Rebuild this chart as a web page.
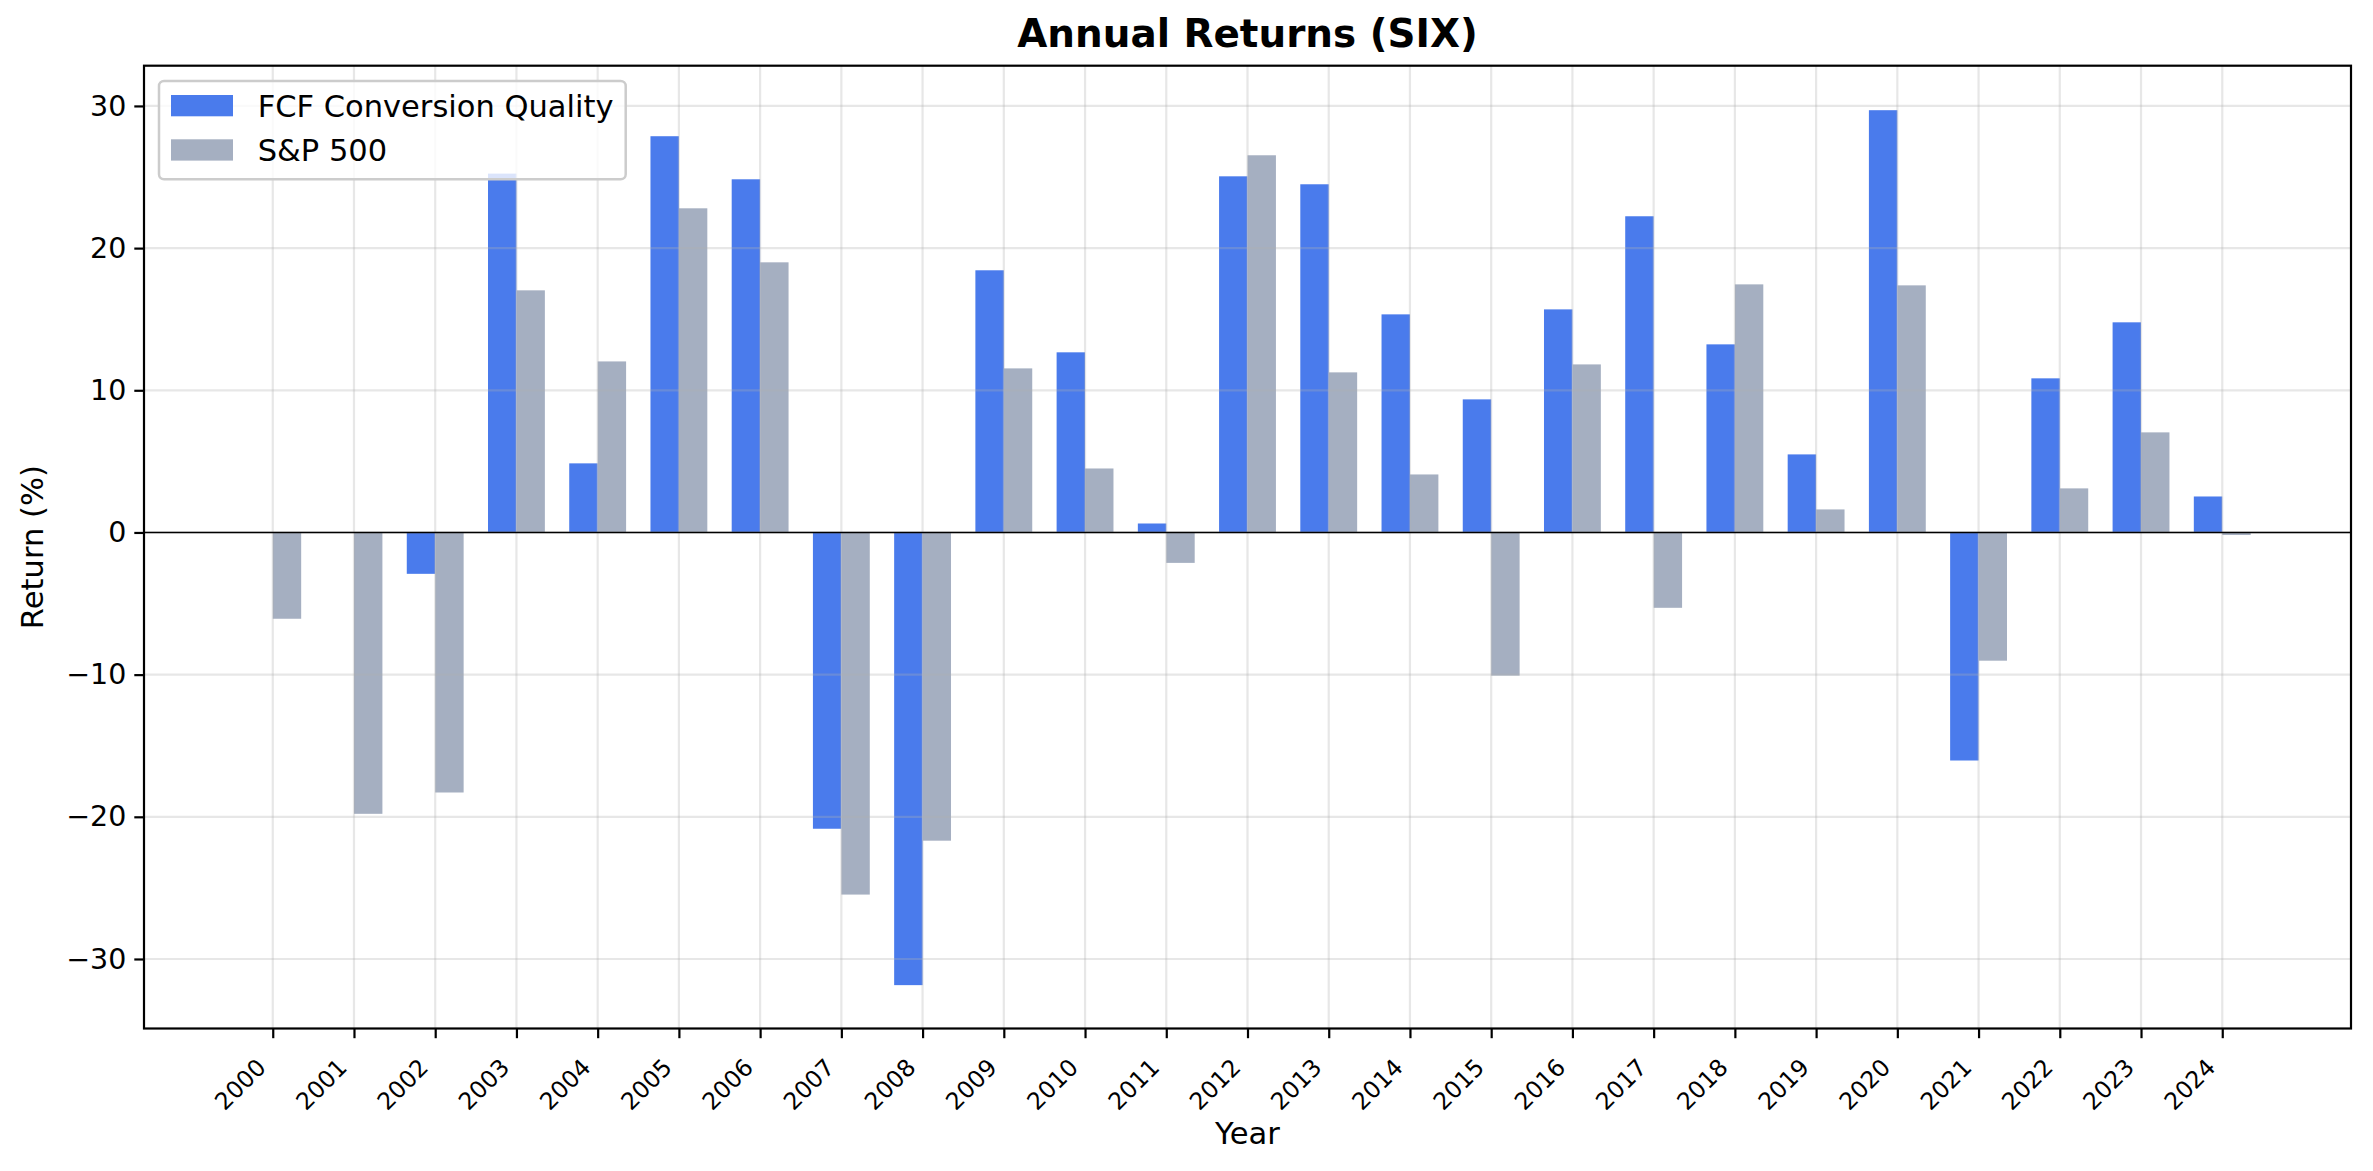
<!DOCTYPE html>
<html>
<head>
<meta charset="utf-8">
<script src="https://cdn.jsdelivr.net/npm/d3@7"></script>
<style>
  body { margin: 0; background: #fff; }
  svg text { font-family: "DejaVu Sans", sans-serif; }
</style>
</head>
<body>
<div id="chart"></div>
<script>
const years = ["2000", "2001", "2002", "2003", "2004", "2005", "2006", "2007", "2008", "2009",
  "2010", "2011", "2012", "2013", "2014", "2015", "2016", "2017", "2018", "2019",
  "2020", "2021", "2022", "2023", "2024"];
const fcfReturns = [null, null, -2.91, 25.24, 4.86, 27.87, 24.84, -20.84, -31.84, 18.44,
  12.67, 0.63, 25.05, 24.49, 15.34, 9.36, 15.69, 22.24, 13.23, 5.49,
  29.70, -16.04, 10.84, 14.78, 2.53];
const spReturns = [-6.07, -19.79, -18.29, 17.03, 12.03, 22.80, 19.00, -25.47, -21.68, 11.54,
  4.50, -2.14, 26.53, 11.26, 4.08, -10.07, 11.82, -5.30, 17.45, 1.62,
  17.38, -9.02, 3.10, 7.04, -0.18];
const yTicks = [-30, -20, -10, 0, 10, 20, 30];
const seriesNames = ["FCF Conversion Quality", "S&P 500"];

const W = 2373, H = 1171;
const margin = { top: 65.7, right: 22, bottom: 142.5, left: 144 },
  width = W - margin.left - margin.right,
  height = H - margin.top - margin.bottom,
  colorA = "#4a7bec",
  colorB = "#a5afc1",
  barW = 0.35;

const svg = d3
  .select("#chart")
  .append("svg")
  .attr("width", W)
  .attr("height", H);

const g = svg
  .append("g")
  .attr("transform", "translate(" + margin.left + "," + margin.top + ")");

const x = d3
  .scaleLinear()
  .domain([-1.585, 25.585])
  .range([0, width]);

const y = d3
  .scaleLinear()
  .domain([-34.89, 32.83])
  .range([height, 0]);

// bars
const series = [
  { values: fcfReturns, offset: -barW / 2, color: colorA },
  { values: spReturns, offset: barW / 2, color: colorB }
];
series.forEach(s => {
  g.append("g")
    .selectAll("rect")
    .data(s.values.map((v, i) => ({ v, i })).filter(d => d.v !== null))
    .join("rect")
    .attr("x", d => x(d.i + s.offset - barW / 2))
    .attr("width", x(barW) - x(0))
    .attr("y", d => y(Math.max(0, d.v)))
    .attr("height", d => Math.abs(y(d.v) - y(0)))
    .attr("fill", s.color);
});

// grid (drawn over bars, translucent)
g.append("g")
  .selectAll("line.vg")
  .data(years)
  .join("line")
  .attr("x1", (d, i) => x(i))
  .attr("x2", (d, i) => x(i))
  .attr("y1", 0)
  .attr("y2", height)
  .attr("stroke", "#b0b0b0")
  .attr("stroke-opacity", 0.3)
  .attr("stroke-width", 2.2);
g.append("g")
  .selectAll("line.hg")
  .data(yTicks)
  .join("line")
  .attr("x1", 0)
  .attr("x2", width)
  .attr("y1", d => y(d))
  .attr("y2", d => y(d))
  .attr("stroke", "#b0b0b0")
  .attr("stroke-opacity", 0.3)
  .attr("stroke-width", 2.2);

// zero line
g.append("line")
  .attr("x1", 0)
  .attr("x2", width)
  .attr("y1", y(0))
  .attr("y2", y(0))
  .attr("stroke", "#000")
  .attr("stroke-width", 1.4);

// y axis
const yAxis = d3
  .axisLeft(y)
  .tickValues(yTicks)
  .tickSize(9.7)
  .tickPadding(8)
  .tickFormat(d => (d < 0 ? "\u2212" + Math.abs(d) : d));
const yg = g.append("g").call(yAxis);
yg.select(".domain").remove();
yg.selectAll(".tick line").attr("stroke", "#000").attr("stroke-width", 2.2);
yg.selectAll(".tick text")
  .attr("fill", "#000")
  .style("font-size", "28.5px");

// x axis
const xAxis = d3
  .axisBottom(x)
  .tickValues(d3.range(years.length))
  .tickSize(9.7)
  .tickFormat(i => years[i]);
const xg = g
  .append("g")
  .attr("transform", "translate(0," + height + ")")
  .call(xAxis);
xg.select(".domain").remove();
xg.selectAll(".tick line").attr("stroke", "#000").attr("stroke-width", 2.2);
xg.selectAll(".tick text")
  .attr("fill", "#000")
  .attr("text-anchor", "end")
  .attr("dy", null)
  .attr("y", 0)
  .attr("transform", "translate(-6,40.5) rotate(-45)")
  .style("font-size", "23.6px");

// spines
g.append("rect")
  .attr("width", width)
  .attr("height", height)
  .attr("fill", "none")
  .attr("stroke", "#000")
  .attr("stroke-width", 2.2);

// legend
const lg = g.append("g").attr("transform", "translate(15,15.3)");
lg.append("rect")
  .attr("width", 466.7)
  .attr("height", 98.3)
  .attr("rx", 5)
  .attr("fill", "#fff")
  .attr("fill-opacity", 0.8)
  .attr("stroke", "#cccccc")
  .attr("stroke-width", 2.5);
seriesNames.forEach((name, i) => {
  lg.append("rect")
    .attr("x", 12)
    .attr("y", 14 + i * 44.3)
    .attr("width", 62)
    .attr("height", 21.3)
    .attr("fill", i === 0 ? colorA : colorB);
  lg.append("text")
    .attr("x", 98.7)
    .attr("y", 36 + i * 44)
    .style("font-size", "30.5px")
    .text(name);
});

// labels
svg.append("text")
  .attr("x", margin.left + width / 2)
  .attr("y", 47.3)
  .attr("text-anchor", "middle")
  .style("font-size", "38.9px")
  .style("font-weight", "bold")
  .text("Annual Returns (SIX)");

svg.append("text")
  .attr("x", margin.left + width / 2)
  .attr("y", 1144)
  .attr("text-anchor", "middle")
  .style("font-size", "30.6px")
  .text("Year");

svg.append("text")
  .attr("transform", "translate(42.5," + (margin.top + height / 2) + ") rotate(-90)")
  .attr("text-anchor", "middle")
  .style("font-size", "30.6px")
  .text("Return (%)");
</script>
</body>
</html>
